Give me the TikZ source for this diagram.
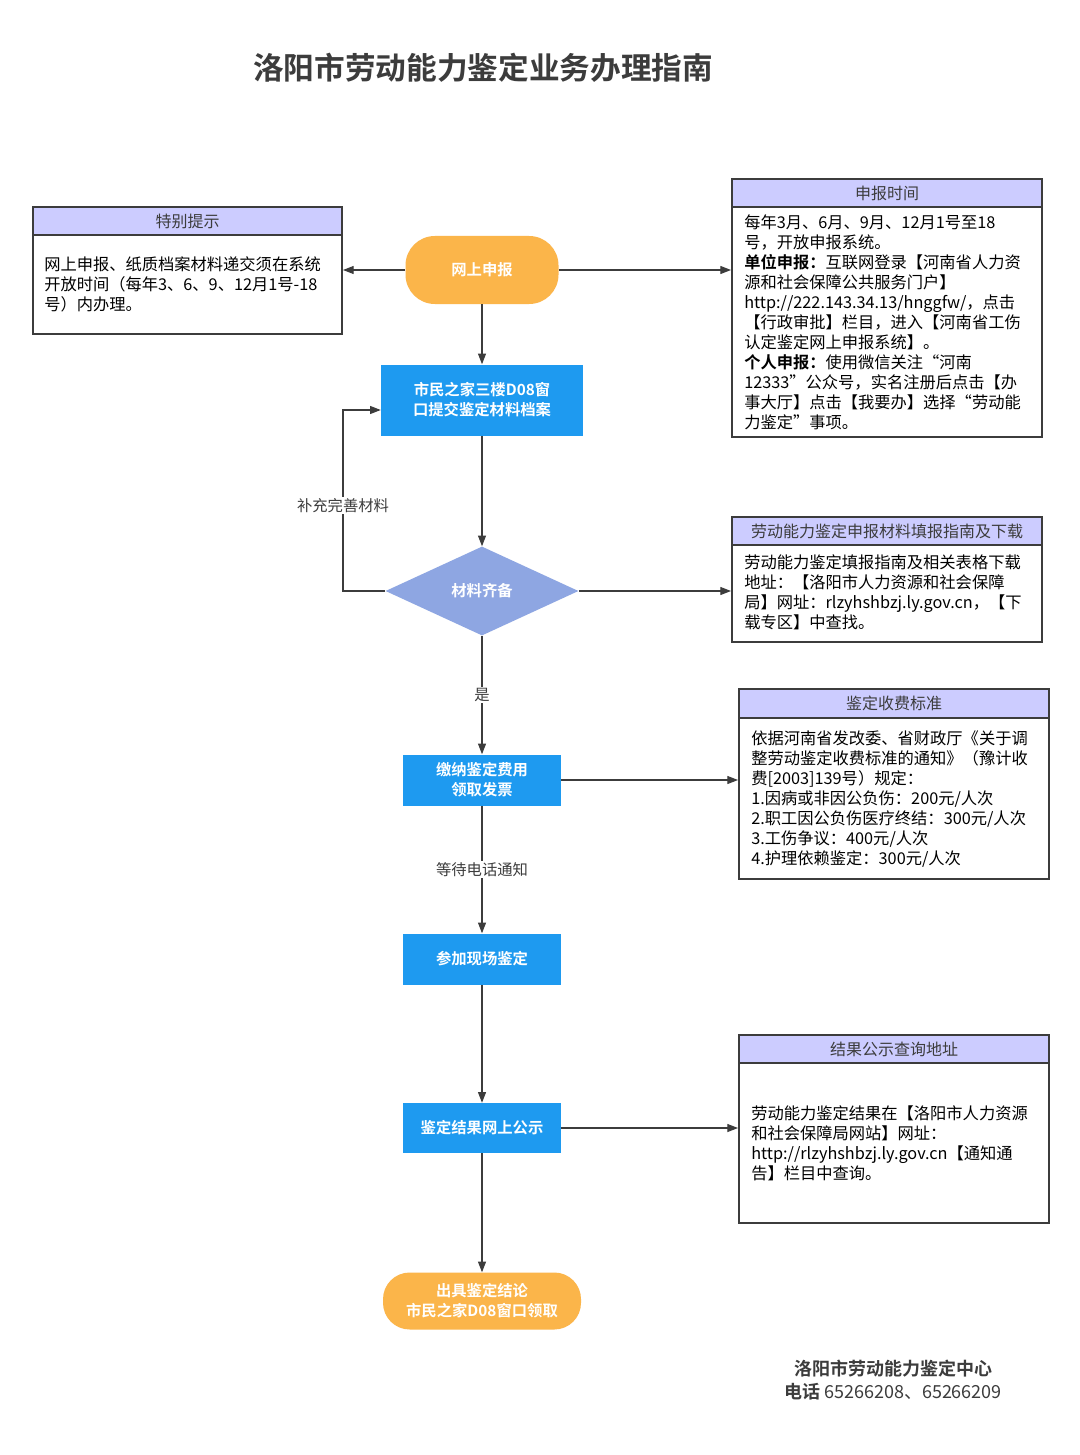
\documentclass[tikz,border=0pt]{standalone}
\usepackage{fontspec}
\setmainfont{Noto Sans CJK SC}[BoldFont={Noto Sans CJK SC Bold}]
\usetikzlibrary{arrows.meta,shapes.geometric}
\definecolor{hdr}{HTML}{CCCCFF}
\definecolor{bord}{HTML}{3C3C3C}
\definecolor{blu}{HTML}{1E9AF0}
\definecolor{orn}{HTML}{FBB54A}
\definecolor{dia}{HTML}{8EA6E2}
\begin{document}
\begin{tikzpicture}[x=0.75pt,y=-0.75pt,
  body/.style={font=\fontsize{12.2}{15}\selectfont,align=left,anchor=north west,inner sep=0pt},
  hd/.style={draw=bord,line width=1.5pt,fill=hdr,anchor=north west,inner sep=0pt,font=\fontsize{12}{15}\selectfont,text=bord},
  bx/.style={draw=bord,line width=1.5pt,anchor=north west,inner sep=0pt},
  proc/.style={fill=blu,text=white,font=\bfseries\fontsize{11.5}{15}\selectfont,align=center,inner sep=0pt},
  pill/.style={fill=orn,text=white,font=\bfseries\fontsize{11.5}{15}\selectfont,align=center,rounded corners=22pt,inner sep=0pt},
  arr/.style={draw=bord,line width=0.8pt,-{Triangle[length=8pt,width=6pt]}},
  lbl/.style={font=\fontsize{11.5}{15}\selectfont,text=bord,fill=white,inner sep=1pt}]
\useasboundingbox[fill=white] (0,0) rectangle (1080,1455);
\node[font=\bfseries\fontsize{23}{27}\selectfont,text=bord] (title) at (483,68) {洛阳市劳动能力鉴定业务办理指南};

% 特别提示
\node[bx,minimum width=309*0.75pt,minimum height=99*0.75pt] (b1) at (32,234) {};
\node[hd,minimum width=309*0.75pt,minimum height=28*0.75pt] (h1) at (32,206) {特别提示};
\node[body] (t1) at (44,256) {网上申报、纸质档案材料递交须在系统\\开放时间（每年3、6、9、12月1号-18\\号）内办理。};

% 申报时间
\node[bx,minimum width=310*0.75pt,minimum height=230*0.75pt] (b2) at (731,206) {};
\node[hd,minimum width=310*0.75pt,minimum height=28*0.75pt] (h2) at (731,178) {申报时间};
\node[body] (t2) at (744,214) {每年3月、6月、9月、12月1号至18\\号，开放申报系统。\\\textbf{单位申报：}互联网登录【河南省人力资\\源和社会保障公共服务门户】\\http://222.143.34.13/hnggfw/，点击\\【行政审批】栏目，进入【河南省工伤\\认定鉴定网上申报系统】。\\\textbf{个人申报：}使用微信关注“河南\\12333”公众号，实名注册后点击【办\\事大厅】点击【我要办】选择“劳动能\\力鉴定”事项。};

% 劳动能力鉴定申报材料
\node[bx,minimum width=310*0.75pt,minimum height=97*0.75pt] (b3) at (731,544) {};
\node[hd,minimum width=310*0.75pt,minimum height=28*0.75pt] (h3) at (731,516) {劳动能力鉴定申报材料填报指南及下载};
\node[body] (t3) at (744,554) {劳动能力鉴定填报指南及相关表格下载\\地址：【洛阳市人力资源和社会保障\\局】网址：rlzyhshbzj.ly.gov.cn，【下\\载专区】中查找。};

% 鉴定收费标准
\node[bx,minimum width=310*0.75pt,minimum height=161*0.75pt] (b4) at (738,717) {};
\node[hd,minimum width=310*0.75pt,minimum height=29*0.75pt] (h4) at (738,688) {鉴定收费标准};
\node[body] (t4) at (751,730) {依据河南省发改委、省财政厅《关于调\\整劳动鉴定收费标准的通知》（豫计收\\费[2003]139号）规定：\\1.因病或非因公负伤：200元/人次\\2.职工因公负伤医疗终结：300元/人次\\3.工伤争议：400元/人次\\4.护理依赖鉴定：300元/人次};

% 结果公示查询地址
\node[bx,minimum width=310*0.75pt,minimum height=160*0.75pt] (b5) at (738,1062) {};
\node[hd,minimum width=310*0.75pt,minimum height=28*0.75pt] (h5) at (738,1034) {结果公示查询地址};
\node[body] (t5) at (751,1105) {劳动能力鉴定结果在【洛阳市人力资源\\和社会保障局网站】网址：\\http://rlzyhshbzj.ly.gov.cn【通知通\\告】栏目中查询。};

% flow
\node[pill,minimum width=153*0.75pt,minimum height=68*0.75pt] (n1) at (482,270) {网上申报};
\node[proc,minimum width=202*0.75pt,minimum height=71*0.75pt] (n2) at (482,400) {市民之家三楼D08窗\\口提交鉴定材料档案};
\node[diamond,fill=dia,text=white,font=\bfseries\fontsize{11.5}{15}\selectfont,inner sep=0pt,minimum width=193*0.75pt,minimum height=89*0.75pt,aspect=2.17] (n3) at (482,591) {材料齐备};
\node[proc,minimum width=158*0.75pt,minimum height=51*0.75pt] (n4) at (482,780) {缴纳鉴定费用\\领取发票};
\node[proc,minimum width=158*0.75pt,minimum height=51*0.75pt] (n5) at (482,959) {参加现场鉴定};
\node[proc,minimum width=158*0.75pt,minimum height=50*0.75pt] (n6) at (482,1128) {鉴定结果网上公示};
\node[pill,rounded corners=20pt,minimum width=198*0.75pt,minimum height=57*0.75pt] (n7) at (482,1301) {出具鉴定结论\\市民之家D08窗口领取};

\coordinate (c1) at (343,591);
\coordinate (c2) at (343,410);
\draw[arr] (n1) -- (n2);
\draw[arr] (n2) -- (n3);
\draw[arr] (n3) -- node[lbl]{是} (n4);
\draw[arr] (n4) -- node[lbl]{等待电话通知} (n5);
\draw[arr] (n5) -- (n6);
\draw[arr] (n6) -- (n7);
\draw[arr] (n3.west) -- (c1) -- node[lbl,pos=0.47]{补充完善材料} (c2) -- (n2.west |- c2);
\draw[arr] (n1.west) -- (b1.east |- n1.west);
\draw[arr] (n1.east) -- (b2.west |- n1.east);
\draw[arr] (n3.east) -- (b3.west |- n3.east);
\draw[arr] (n4.east) -- (b4.west |- n4.east);
\draw[arr] (n6.east) -- (b5.west |- n6.east);

\node[font=\bfseries\fontsize{13.5}{17}\selectfont,text=bord] (f1) at (893,1369) {洛阳市劳动能力鉴定中心};
\node[font=\fontsize{13.5}{17}\selectfont,text=bord] (f2) at (893,1392) {\textbf{电话} 65266208、65266209};
\end{tikzpicture}
\end{document}
